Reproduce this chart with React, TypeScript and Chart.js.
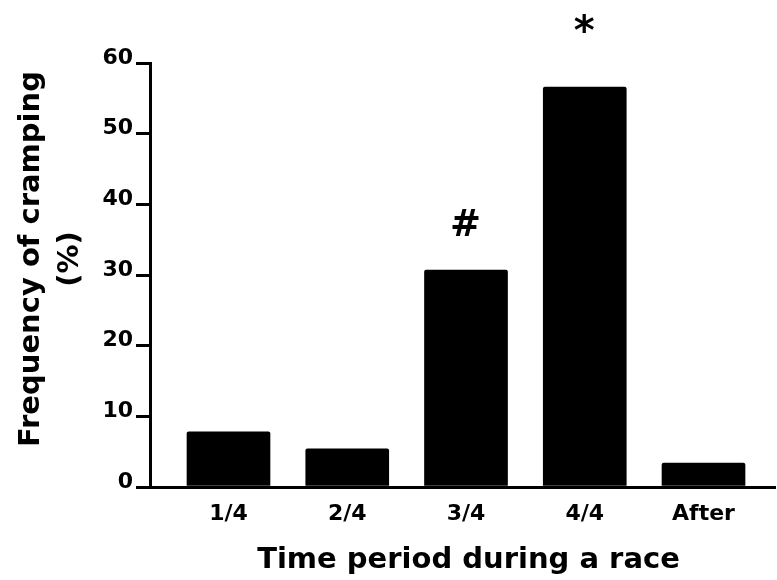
import React, { useEffect, useRef } from "react";
import { Chart, registerables } from "chart.js";

Chart.register(...registerables);

const categories: string[] = ["1/4", "2/4", "3/4", "4/4", "After"];
const frequency: number[] = [7.8, 5.4, 30.7, 56.6, 3.4];
const markers: string[] = ["", "", "#", "*", ""];
const yTicks: number[] = [0, 10, 20, 30, 40, 50, 60];
const yTitleLines: string[] = ["Frequency of cramping", "(%)"];
const xTitle = "Time period during a race";

const FONT = "'DejaVu Sans', 'Liberation Sans', Arial, sans-serif";

const overlayPlugin = {
  id: "overlay",
  afterDraw(chart: any) {
    const { ctx, chartArea, scales } = chart;
    const xs = scales.x;
    const ys = scales.y;
    ctx.save();
    ctx.fillStyle = "#000";

    // markers above bars
    markers.forEach((m, i) => {
      if (!m) return;
      const size = m === "#" ? 37 : 40;
      const gap = m === "#" ? 48 : 64;
      ctx.font = `bold ${size}px ${FONT}`;
      ctx.textAlign = "left";
      ctx.textBaseline = "alphabetic";
      const tm = ctx.measureText(m);
      const cx = xs.getPixelForValue(i) - 0.5;
      const cy = ys.getPixelForValue(frequency[i]) - gap;
      const x = cx - (tm.actualBoundingBoxRight - tm.actualBoundingBoxLeft) / 2;
      const y = cy - (tm.actualBoundingBoxDescent - tm.actualBoundingBoxAscent) / 2;
      ctx.fillText(m, x, y);
    });

    // x title
    ctx.font = `bold 29px ${FONT}`;
    ctx.textAlign = "center";
    ctx.textBaseline = "alphabetic";
    ctx.fillText(xTitle, (chartArea.left + chartArea.right) / 2 + 6, 568);

    // y title
    const cy = (chartArea.top + chartArea.bottom) / 2 - 16;
    ctx.translate(0, cy);
    ctx.rotate(-Math.PI / 2);
    ctx.textAlign = "center";
    ctx.fillText(yTitleLines[0], 0, 39);
    ctx.fillText(yTitleLines[1], 0, 78);
    ctx.restore();
  },
};

export default function App() {
  const canvasRef = useRef<HTMLCanvasElement | null>(null);

  useEffect(() => {
    if (!canvasRef.current) return;
    const chart = new Chart(canvasRef.current, {
      type: "bar",
      data: {
        datasets: [
          {
            data: frequency.map((v, i) => ({ x: i, y: v })),
            backgroundColor: "#000",
            borderWidth: 0,
            barThickness: 83,
            borderRadius: 2,
          },
        ],
      },
      options: {
        responsive: false,
        animation: false,
        devicePixelRatio: 1,
        layout: { padding: { top: 63, right: 2, left: 0, bottom: 0 } },
        plugins: {
          legend: { display: false },
          tooltip: { enabled: false },
          title: { display: false },
        },
        scales: {
          x: {
            type: "linear",
            min: -0.661,
            max: 4.602,
            offset: false,
            grid: { display: false, drawTicks: false },
            border: { display: true, color: "#000", width: 3 },
            afterBuildTicks: (scale: any) => {
              scale.ticks = categories.map((_, i) => ({ value: i }));
            },
            afterFit: (scale: any) => {
              scale.height = 93;
            },
            ticks: {
              color: "#000",
              padding: 14,
              maxRotation: 0,
              autoSkip: false,
              font: { family: FONT, size: 22, weight: "bold" },
              callback: (v: any) => categories[Math.round(Number(v))] ?? "",
            },
          },
          y: {
            min: 0,
            max: 60,
            afterBuildTicks: (scale: any) => {
              scale.ticks = yTicks.map((v) => ({ value: v }));
            },
            afterFit: (scale: any) => {
              scale.width = 150;
            },
            grid: {
              drawOnChartArea: false,
              drawTicks: true,
              tickLength: 14,
              tickWidth: 3,
              tickColor: "#000",
              color: "#000",
              lineWidth: 3,
            },
            border: { display: true, color: "#000", width: 3 },
            ticks: {
              color: "#000",
              padding: 3,
              labelOffset: -5,
              font: { family: FONT, size: 22, weight: "bold" },
            },
          },
        },
      },
      plugins: [overlayPlugin],
    });
    return () => chart.destroy();
  }, []);

  return (
    <div style={{ position: "absolute", left: 0, top: 0, width: 777, height: 580, background: "#fff" }}>
      <canvas ref={canvasRef} width={777} height={580} style={{ display: "block" }} />
    </div>
  );
}
